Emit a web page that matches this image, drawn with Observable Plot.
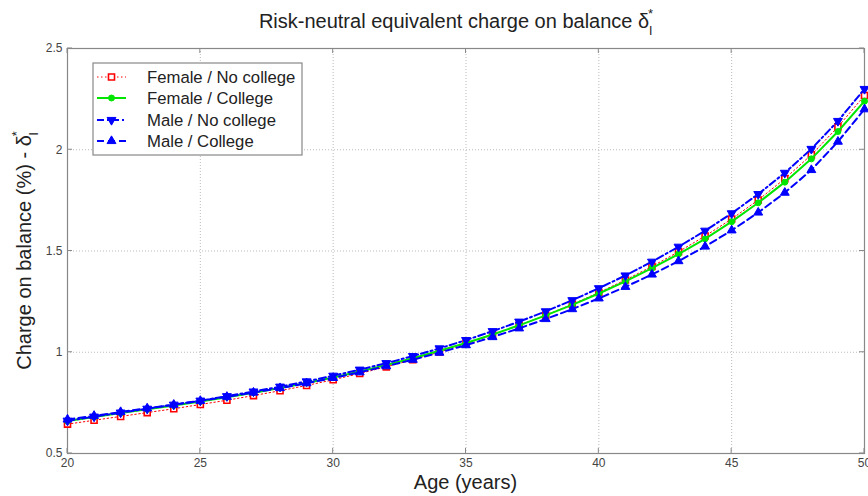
<!DOCTYPE html>
<html><head><meta charset="utf-8">
<script src="https://cdn.jsdelivr.net/npm/d3@7"></script>
<script src="https://cdn.jsdelivr.net/npm/@observablehq/plot@0.6"></script>
<style>body{margin:0;background:#fff}</style>
</head><body><div id="chart"></div>
<script>
const ages = [20,21,22,23,24,25,26,27,28,29,30,31,32,33,34,35,36,37,38,39,40,41,42,43,44,45,46,47,48,49,50];
const seriesNames = ["Female / No college","Female / College","Male / No college","Male / College"];
const femaleNoCollege = [0.645,0.664,0.683,0.702,0.721,0.742,0.763,0.786,0.810,0.836,0.864,0.895,0.928,0.963,1.001,1.042,1.086,1.133,1.183,1.237,1.295,1.357,1.424,1.496,1.574,1.658,1.752,1.857,1.975,2.113,2.268];
const femaleCollege   = [0.660,0.680,0.700,0.718,0.737,0.757,0.778,0.800,0.823,0.848,0.875,0.905,0.937,0.970,1.007,1.046,1.088,1.133,1.182,1.234,1.290,1.350,1.415,1.485,1.560,1.645,1.738,1.840,1.955,2.090,2.240];
const maleNoCollege   = [0.662,0.682,0.702,0.721,0.741,0.761,0.783,0.806,0.830,0.856,0.884,0.914,0.946,0.981,1.019,1.060,1.104,1.151,1.202,1.257,1.316,1.379,1.447,1.521,1.600,1.686,1.781,1.886,2.004,2.142,2.300];
const maleCollege     = [0.668,0.686,0.705,0.723,0.741,0.760,0.780,0.801,0.823,0.847,0.873,0.901,0.931,0.963,0.998,1.035,1.075,1.118,1.164,1.213,1.266,1.323,1.384,1.450,1.522,1.602,1.690,1.788,1.900,2.040,2.200];
const xTicks = [20,25,30,35,40,45,50];
const yTicks = [0.5,1,1.5,2,2.5];

const seriesValues = [femaleNoCollege, femaleCollege, maleNoCollege, maleCollege];
const styles = [
  {stroke:"#ff0000", dash:"1.5,2.5", width:1, symbol:"square", fill:"#ffffff", r:3.4, rotate:0, sw:1.6},
  {stroke:"#00e600", dash:null, width:2, symbol:"circle", fill:"#00e600", r:3.0, rotate:0, sw:1},
  {stroke:"#0000ff", dash:"7,3,2,3", width:2, symbol:"triangle", fill:"#0000ff", r:3.3, rotate:180, sw:1},
  {stroke:"#0000ff", dash:"7,4", width:2, symbol:"triangle", fill:"#0000ff", r:3.3, rotate:0, sw:1}
];

const marks = [
  Plot.gridX(xTicks, {stroke:"#aaa", strokeOpacity:0.8, strokeDasharray:"1,2"}),
  Plot.gridY(yTicks, {stroke:"#aaa", strokeOpacity:0.8, strokeDasharray:"1,2"}),
  Plot.frame({stroke:"#888", strokeWidth:1.2}),
  Plot.axisX(xTicks, {tickSize:0, tickPadding:5, fontSize:12, fill:"#444"}),
  Plot.axisY(yTicks, {tickSize:0, tickPadding:5, fontSize:12, fill:"#444", tickFormat:d=>String(d)})
];
seriesValues.forEach((vals, i) => {
  const s = styles[i];
  const rows = ages.map((a, j) => ({age:a, v:vals[j]}));
  marks.push(Plot.line(rows, {x:"age", y:"v", stroke:s.stroke, strokeWidth:s.width, strokeDasharray:s.dash, curve:"linear"}));
  marks.push(Plot.dot(rows, {x:"age", y:"v", symbol:s.symbol, r:s.r, fill:s.fill, stroke:s.stroke, strokeWidth:s.sw, rotate:s.rotate}));
});

const plot = Plot.plot({
  width:868, height:496,
  marginLeft:67, marginRight:4, marginTop:48, marginBottom:43,
  style:{fontFamily:"'Liberation Sans', Arial, sans-serif", fontSize:"12px", background:"#fff", color:"#444"},
  x:{domain:[20,50], label:null},
  y:{domain:[0.5,2.5], label:null},
  marks
});
document.getElementById("chart").appendChild(plot);

const svg = d3.select(plot);
const X = plot.scale("x"), Y = plot.scale("y");
const x0 = X.apply(20), x1 = X.apply(50), y0 = Y.apply(0.5), y1 = Y.apply(2.5);
// inward ticks (MATLAB style)
const tg = svg.append("g").attr("stroke","#888").attr("stroke-width",1);
xTicks.forEach(t => {
  const px = X.apply(t);
  tg.append("line").attr("x1",px).attr("x2",px).attr("y1",y0).attr("y2",y0-5);
  tg.append("line").attr("x1",px).attr("x2",px).attr("y1",y1).attr("y2",y1+5);
});
yTicks.forEach(t => {
  const py = Y.apply(t);
  tg.append("line").attr("x1",x0).attr("x2",x0+5).attr("y1",py).attr("y2",py);
  tg.append("line").attr("x1",x1).attr("x2",x1-5).attr("y1",py).attr("y2",py);
});

const font = "'Liberation Sans', Arial, sans-serif";
// Title
const title = svg.append("text").attr("x",456).attr("y",28).attr("text-anchor","middle")
  .attr("font-family",font).attr("font-size",20).attr("fill","#222");
title.append("tspan").text("Risk-neutral equivalent charge on balance δ");
title.append("tspan").attr("font-size",13).attr("dy",7).text("l");
title.append("tspan").attr("font-size",13).attr("dx",-4).attr("dy",-17).text("*");

// X label
svg.append("text").attr("x",(x0+x1)/2).attr("y",489).attr("text-anchor","middle")
  .attr("font-family",font).attr("font-size",20).attr("fill","#222").text("Age (years)");

// Y label
const yl = svg.append("text").attr("transform",`translate(31,${(y0+y1)/2}) rotate(-90)`).attr("text-anchor","middle")
  .attr("font-family",font).attr("font-size",20).attr("fill","#222");
yl.append("tspan").text("Charge on balance (%) - δ");
yl.append("tspan").attr("font-size",13).attr("dy",7).text("l");
yl.append("tspan").attr("font-size",13).attr("dx",-4).attr("dy",-17).text("*");

// Legend
const lg = svg.append("g");
lg.append("rect").attr("x",93).attr("y",63).attr("width",209).attr("height",92)
  .attr("fill","#fff").attr("stroke","#888").attr("stroke-width",1.2);
const rowY = [77, 98, 120, 141];
const symMap = {square:d3.symbolSquare, circle:d3.symbolCircle, triangle:d3.symbolTriangle};
seriesNames.forEach((name, i) => {
  const s = styles[i];
  lg.append("line").attr("x1",97).attr("x2",126).attr("y1",rowY[i]).attr("y2",rowY[i])
    .attr("stroke",s.stroke).attr("stroke-width",s.width).attr("stroke-dasharray",s.dash);
  const area = Math.PI * s.r * s.r;
  lg.append("path").attr("d",d3.symbol(symMap[s.symbol], area)())
    .attr("transform",`translate(111.5,${rowY[i]}) rotate(${s.rotate})`)
    .attr("fill",s.fill).attr("stroke",s.stroke).attr("stroke-width",s.sw);
  lg.append("text").attr("x",147).attr("y",rowY[i]).attr("dy","0.35em").attr("text-anchor","start")
    .attr("font-family",font).attr("font-size",16.7).attr("fill","#222").text(name);
});
</script>
</body></html>
